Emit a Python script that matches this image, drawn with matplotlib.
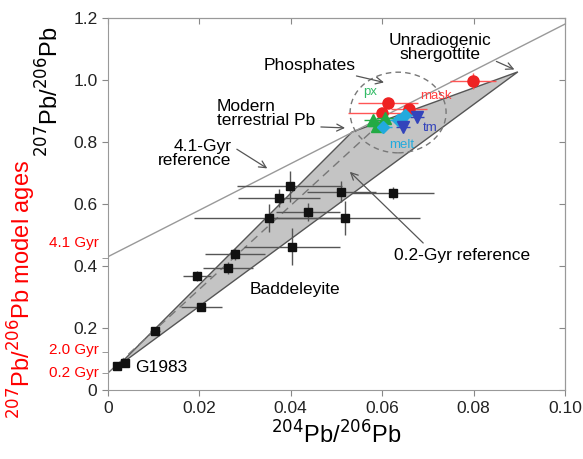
import matplotlib
matplotlib.use('Agg')
import matplotlib.pyplot as plt
from matplotlib.patches import Polygon, Ellipse

plt.rcParams['font.family'] = ['Liberation Sans', 'DejaVu Sans']

# baddeleyite (black squares) with errors
bad_x = [0.0398, 0.0374, 0.0511, 0.0624, 0.0438, 0.0353, 0.0518, 0.0403, 0.0278, 0.0263, 0.0195, 0.0204, 0.0103, 0.0037, 0.0020]
bad_y = [0.658, 0.619, 0.640, 0.635, 0.574, 0.554, 0.555, 0.462, 0.438, 0.393, 0.368, 0.267, 0.190, 0.087, 0.078]
bad_xerr = [0.0115, 0.009, 0.0075, 0.009, 0.007, 0.0165, 0.0165, 0.0105, 0.0065, 0.0055, 0.003, 0.0045, 0.001, 0.0008, 0.0008]
bad_yerr = [0.05, 0.03, 0.035, 0.02, 0.03, 0.045, 0.055, 0.06, 0.02, 0.02, 0.015, 0.01, 0.01, 0.008, 0.008]

# phosphates
mask_x = [0.0799, 0.0613, 0.0600, 0.0659]
mask_y = [0.997, 0.926, 0.893, 0.906]
mask_xerr = [0.005, 0.0065, 0.0075, 0.004]
mask_yerr = [0.025, 0.015, 0.015, 0.012]
px_x = [0.0580, 0.0606, 0.0589]
px_y = [0.871, 0.877, 0.850]
melt_x = [0.0602, 0.0635, 0.0650]
melt_y = [0.849, 0.871, 0.887]
tm_x = [0.0676, 0.0646]
tm_y = [0.881, 0.848]

# reference lines / field
ref41_x = [0.0, 0.1]
ref41_y = [0.43, 1.18]
ref02_x = [0.0, 0.060]
ref02_y = [0.055, 0.865]
field_x = [0.002, 0.0534, 0.0897]
field_y = [0.075, 0.832, 1.026]

xticks = [0, 0.02, 0.04, 0.06, 0.08, 0.10]
xlabels = ['0', '0.02', '0.04', '0.06', '0.08', '0.10']
yticks = [0, 0.2, 0.4, 0.6, 0.8, 1.0, 1.2]
ylabels = ['0', '0.2', '0.4', '0.6', '0.8', '1.0', '1.2']
age_ticks = [0.055, 0.123, 0.426]
age_labels = ['0.2 Gyr', '2.0 Gyr', '4.1 Gyr']
age_label_y = [0.055, 0.13, 0.475]

fig = plt.figure(figsize=(5.83, 4.59), dpi=100)
ax = fig.add_axes([0.185, 0.150, 0.784, 0.811])

ax.add_patch(Polygon(list(zip(field_x, field_y)), closed=True, facecolor='#c4c4c4',
                     edgecolor='#555555', lw=1.0, zorder=1))
ax.plot(ref41_x, ref41_y, color='#999999', lw=1.0, zorder=2)
ax.plot(ref02_x, ref02_y, color='#777777', lw=1.0, ls=(0, (6, 4)), zorder=2)
ax.add_patch(Ellipse((0.0635, 0.895), 0.021, 0.26, fill=False, edgecolor='#777777',
                     lw=1.0, ls=(0, (4, 3)), zorder=2))

ax.errorbar(bad_x, bad_y, xerr=bad_xerr, yerr=bad_yerr, fmt='s', color='#111111',
            ecolor='#555555', elinewidth=1.0, ms=6, capsize=0, zorder=4)
ax.errorbar(mask_x, mask_y, xerr=mask_xerr, yerr=mask_yerr, fmt='o', color='#ee2222',
            ecolor='#ff5555', elinewidth=1.0, ms=8, capsize=0, zorder=5)
ax.errorbar(px_x, px_y, xerr=0.002, yerr=0.012, fmt='^', color='#22aa44',
            ecolor='#22aa44', elinewidth=1.0, ms=8, capsize=0, zorder=6)
ax.errorbar(melt_x, melt_y, xerr=0.002, yerr=0.01, fmt='D', color='#22aadd',
            ecolor='#22aadd', elinewidth=1.0, ms=6, capsize=0, zorder=6)
ax.errorbar(tm_x, tm_y, xerr=0.0015, fmt='v', color='#3344bb',
            ecolor='#3344bb', elinewidth=1.0, ms=8, capsize=0, zorder=6)

ax.text(0.0558, 0.962, 'px', color='#33bb66', fontsize=9.5, va='center')
ax.text(0.0683, 0.948, 'mask', color='#ff4444', fontsize=9.5, va='center')
ax.text(0.0690, 0.845, 'tm', color='#3344bb', fontsize=9.5, va='center')
ax.text(0.0643, 0.79, 'melt', color='#22aadd', fontsize=9.5, va='center', ha='center')

ap = dict(arrowstyle='->', color='#555555', lw=0.9)
fs = 12.5
ax.annotate('Unradiogenic\nshergottite', xy=(0.0895, 1.03), xytext=(0.0726, 1.058),
            ha='center', va='bottom', fontsize=fs, linespacing=0.95,
            arrowprops=dict(ap, relpos=(1.0, 0.1)))
ax.annotate('Phosphates', xy=(0.0610, 0.99), xytext=(0.0442, 1.048),
            ha='center', va='center', fontsize=fs, arrowprops=ap)
ax.annotate('Modern\nterrestrial Pb', xy=(0.0525, 0.845), xytext=(0.0239, 0.845),
            ha='left', va='bottom', fontsize=fs, linespacing=0.95,
            arrowprops=dict(ap, relpos=(0.95, 0.05)))
ax.annotate('4.1-Gyr\nreference', xy=(0.0354, 0.71), xytext=(0.0271, 0.716),
            ha='right', va='bottom', fontsize=fs, linespacing=0.95,
            arrowprops=dict(ap, relpos=(1.0, 0.75)))
ax.annotate('0.2-Gyr reference', xy=(0.0525, 0.71), xytext=(0.0775, 0.435),
            ha='center', va='center', fontsize=fs,
            arrowprops=dict(ap, relpos=(0.25, 1.0)))
ax.text(0.0409, 0.323, 'Baddeleyite', ha='center', va='center', fontsize=fs)
ax.text(0.0059, 0.074, 'G1983', ha='left', va='center', fontsize=fs)

ax.set_xlim(0, 0.10)
ax.set_ylim(0, 1.2)
ax.set_xticks(xticks)
ax.set_xticklabels(xlabels)
ax.set_yticks(yticks)
ax.set_yticklabels(ylabels)
ax.tick_params(labelsize=12.5, color='#888888', length=4, labelcolor='#222222')
for s in ax.spines.values():
    s.set_color('#999999')

# top / right ticks pointing inward
top = ax.secondary_xaxis('top')
top.set_xticks(xticks)
top.tick_params(direction='in', length=4, color='#888888', labeltop=False)
right = ax.secondary_yaxis('right')
right.set_yticks(yticks)
right.tick_params(direction='in', length=4, color='#888888', labelright=False)
for sax in (top, right):
    for s in sax.spines.values():
        s.set_color('#999999')

# model-age ticks in red
ax.set_yticks(age_ticks, minor=True)
ax.tick_params(which='minor', length=4, color='#888888')
trans = ax.get_yaxis_transform()
for yv, lab in zip(age_label_y, age_labels):
    ax.text(-0.02, yv, lab, transform=trans, color='red', fontsize=11,
            ha='right', va='center')

ax.set_xlabel('$^{204}$Pb/$^{206}$Pb', fontsize=17, labelpad=4)
fig.text(0.085, 0.80, '$^{207}$Pb/$^{206}$Pb', rotation=90, fontsize=17,
         ha='center', va='center')
fig.text(0.037, 0.37, '$^{207}$Pb/$^{206}$Pb model ages', rotation=90, fontsize=17,
         color='red', ha='center', va='center')

fig.savefig('out.png', dpi=100)
